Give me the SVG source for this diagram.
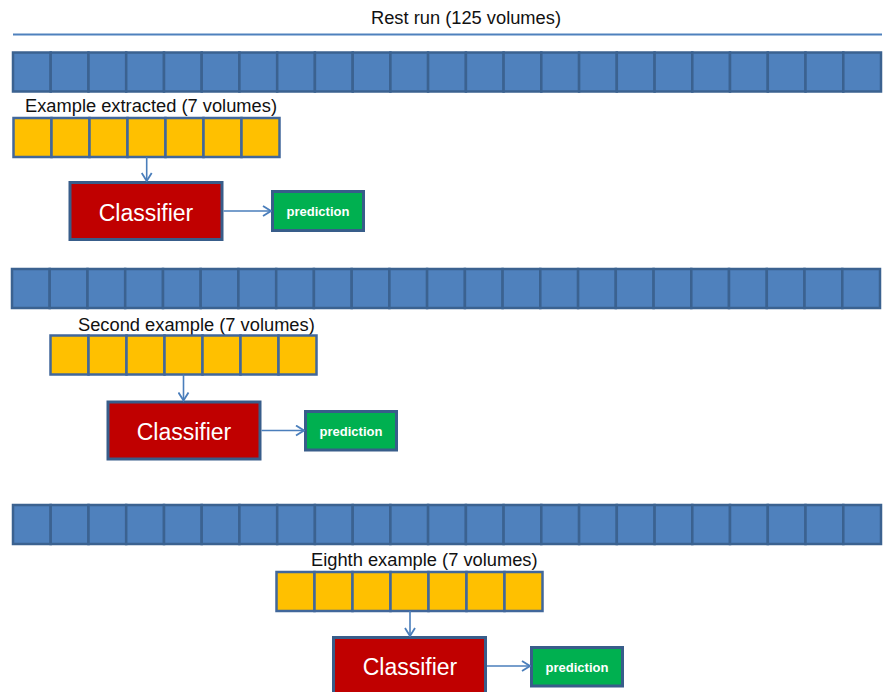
<svg xmlns="http://www.w3.org/2000/svg" xmlns:xlink="http://www.w3.org/1999/xlink" width="884" height="692" viewBox="0 0 884 692">
<style>
text{font-family:"Liberation Sans",Arial,sans-serif;}
.lbl{font-size:18.3px;fill:#111;}
.bc{fill:#4f81bd;stroke:#3b6290;stroke-width:2.5;}
.oc{fill:#ffc000;stroke:#41679b;stroke-width:2.5;}
.cls{fill:#c00000;stroke:#385d8a;stroke-width:3;}
.pred{fill:#00b050;stroke:#385d8a;stroke-width:3;}
.ct{font-size:23px;fill:#fff;text-anchor:middle;}
.pt{font-size:13px;font-weight:bold;fill:#fff;text-anchor:middle;}
.conn{stroke:#4a7ebb;stroke-width:1.6;fill:none;marker-end:url(#ah);}
</style>
<defs>
<marker id="ah" markerUnits="userSpaceOnUse" markerWidth="12" markerHeight="12" viewBox="0 0 12 12" refX="11" refY="6" orient="auto">
<path d="M3,1 L11,6 L3,11" fill="none" stroke="#4a7ebb" stroke-width="1.8"/>
</marker>
<g id="bluerow">
<rect class="bc" x="0" y="0" width="37.7" height="39"/>
<rect class="bc" x="37.7" y="0" width="37.8" height="39"/>
<rect class="bc" x="75.5" y="0" width="37.7" height="39"/>
<rect class="bc" x="113.2" y="0" width="37.8" height="39"/>
<rect class="bc" x="151" y="0" width="37.7" height="39"/>
<rect class="bc" x="188.7" y="0" width="37.7" height="39"/>
<rect class="bc" x="226.4" y="0" width="37.8" height="39"/>
<rect class="bc" x="264.2" y="0" width="37.7" height="39"/>
<rect class="bc" x="301.9" y="0" width="37.8" height="39"/>
<rect class="bc" x="339.7" y="0" width="37.7" height="39"/>
<rect class="bc" x="377.4" y="0" width="37.7" height="39"/>
<rect class="bc" x="415.1" y="0" width="37.8" height="39"/>
<rect class="bc" x="452.9" y="0" width="37.7" height="39"/>
<rect class="bc" x="490.6" y="0" width="37.7" height="39"/>
<rect class="bc" x="528.3" y="0" width="37.8" height="39"/>
<rect class="bc" x="566.1" y="0" width="37.7" height="39"/>
<rect class="bc" x="603.8" y="0" width="37.8" height="39"/>
<rect class="bc" x="641.6" y="0" width="37.7" height="39"/>
<rect class="bc" x="679.3" y="0" width="37.7" height="39"/>
<rect class="bc" x="717" y="0" width="37.8" height="39"/>
<rect class="bc" x="754.8" y="0" width="37.7" height="39"/>
<rect class="bc" x="792.5" y="0" width="37.8" height="39"/>
<rect class="bc" x="830.3" y="0" width="37.7" height="39"/>
</g>
<g id="orangerow">
<rect class="oc" x="0" y="0" width="38" height="39"/>
<rect class="oc" x="38" y="0" width="38" height="39"/>
<rect class="oc" x="76" y="0" width="38" height="39"/>
<rect class="oc" x="114" y="0" width="38" height="39"/>
<rect class="oc" x="152" y="0" width="38" height="39"/>
<rect class="oc" x="190" y="0" width="38" height="39"/>
<rect class="oc" x="228" y="0" width="38" height="39"/>
</g>
</defs>
<rect width="884" height="692" fill="#fff"/>

<g id="title">
<text class="lbl" x="466" y="24" text-anchor="middle">Rest run (125 volumes)</text>
<line x1="13" y1="34.5" x2="882" y2="34.5" stroke="#4f81bd" stroke-width="2"/>
</g>

<g id="rest-run-1"><use xlink:href="#bluerow" href="#bluerow" x="13" y="52.5"/></g>
<g id="example-1">
<text class="lbl" x="25" y="112">Example extracted (7 volumes)</text>
<use xlink:href="#orangerow" href="#orangerow" x="13.5" y="118"/>
</g>
<g id="classifier-1"><rect class="cls" x="70" y="182.5" width="152" height="57"/><text class="ct" x="146" y="220.5">Classifier</text></g>
<g id="prediction-1"><rect class="pred" x="272.5" y="191.5" width="91" height="39"/><text class="pt" x="318" y="216">prediction</text></g>

<g id="rest-run-2"><use xlink:href="#bluerow" href="#bluerow" x="12" y="269"/></g>
<g id="example-2">
<text class="lbl" x="78" y="331">Second example (7 volumes)</text>
<use xlink:href="#orangerow" href="#orangerow" x="50.5" y="335.5"/>
</g>
<g id="classifier-2"><rect class="cls" x="108" y="402" width="152" height="57"/><text class="ct" x="184" y="439.5">Classifier</text></g>
<g id="prediction-2"><rect class="pred" x="305.5" y="411.5" width="91" height="38.5"/><text class="pt" x="351" y="435.5">prediction</text></g>

<g id="rest-run-3"><use xlink:href="#bluerow" href="#bluerow" x="13" y="505"/></g>
<g id="example-3">
<text class="lbl" x="311" y="565.5">Eighth example (7 volumes)</text>
<use xlink:href="#orangerow" href="#orangerow" x="276.5" y="572"/>
</g>
<g id="classifier-3"><rect class="cls" x="333.5" y="637.5" width="152" height="58"/><text class="ct" x="410" y="675">Classifier</text></g>
<g id="prediction-3"><rect class="pred" x="531.5" y="647.5" width="91" height="38.5"/><text class="pt" x="577" y="671.5">prediction</text></g>

<g id="connectors">
<line class="conn" x1="146.7" y1="157" x2="146.7" y2="181"/>
<line class="conn" x1="223.5" y1="211" x2="271" y2="211"/>
<line class="conn" x1="183.5" y1="374.5" x2="183.5" y2="400.5"/>
<line class="conn" x1="261.5" y1="430.5" x2="304" y2="430.5"/>
<line class="conn" x1="410" y1="611" x2="410" y2="636"/>
<line class="conn" x1="487" y1="666" x2="530" y2="666"/>
</g>
</svg>
